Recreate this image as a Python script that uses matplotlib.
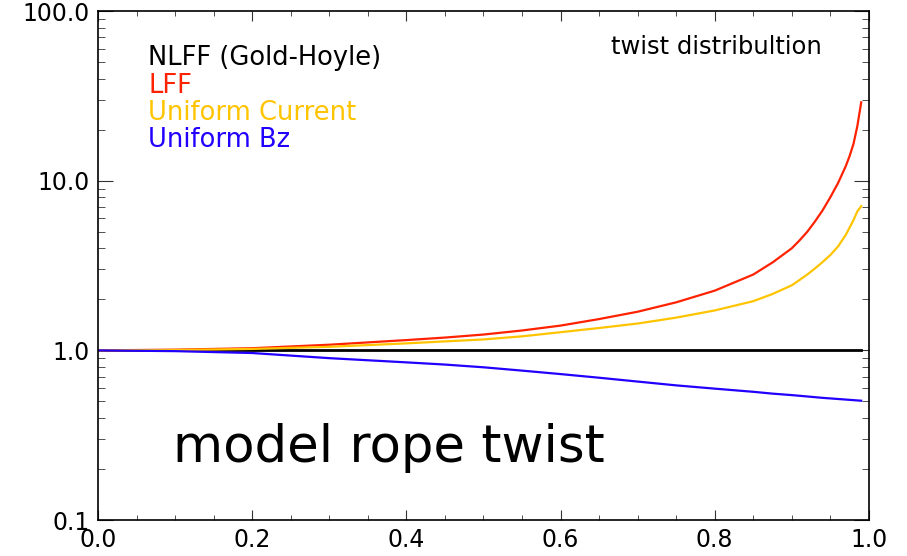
import matplotlib
matplotlib.use('Agg')
import matplotlib.pyplot as plt
from matplotlib.ticker import FixedLocator, MultipleLocator, FormatStrFormatter, LogLocator, NullFormatter

# radius (fraction of rope radius) and twist normalised to axis value
r = [0.0, 0.1, 0.2, 0.3, 0.4, 0.45, 0.5, 0.55, 0.6, 0.65, 0.7, 0.75, 0.8, 0.85, 0.875, 0.9, 0.91,
     0.92, 0.93, 0.94, 0.95, 0.96, 0.97, 0.975, 0.98, 0.985, 0.99]
twist_nlff = [1.0] * len(r)
twist_lff = [1.00, 1.01, 1.03, 1.08, 1.15, 1.19, 1.24, 1.31, 1.40, 1.53, 1.69, 1.92, 2.25, 2.8, 3.3, 4.0, 4.45,
             5.0, 5.75, 6.7, 8.0, 9.7, 12.2, 14.0, 16.5, 21.0, 29.0]
twist_ucur = [1.00, 1.005, 1.02, 1.05, 1.10, 1.13, 1.16, 1.21, 1.28, 1.355, 1.44, 1.56, 1.72, 1.95, 2.15, 2.42, 2.6,
              2.8, 3.04, 3.32, 3.65, 4.1, 4.8, 5.3, 5.86, 6.6, 7.08]
twist_ubz = [1.00, 0.99, 0.965, 0.90, 0.85, 0.825, 0.795, 0.76, 0.725, 0.69, 0.655, 0.622, 0.595, 0.57, 0.556, 0.545,
             0.54, 0.535, 0.53, 0.525, 0.521, 0.517, 0.513, 0.511, 0.509, 0.507, 0.505]

labels = ['NLFF (Gold-Hoyle)', 'LFF', 'Uniform Current', 'Uniform Bz']
colors = ['black', '#ff2200', '#ffc400', '#2200ff']

plt.rcParams['font.family'] = ['DejaVu Sans']

fig = plt.figure(figsize=(9.07, 5.56), dpi=100)
ax = fig.add_axes([0.108, 0.0647, 0.850, 0.9153])

ax.plot(r, twist_nlff, color=colors[0], lw=2.0)
ax.plot(r, twist_lff, color=colors[1], lw=1.6)
ax.plot(r, twist_ucur, color=colors[2], lw=1.6)
ax.plot(r, twist_ubz, color=colors[3], lw=1.6)

ax.set_yscale('log')
ax.set_xlim(0, 1)
ax.set_ylim(0.1, 100)

ax.xaxis.set_major_locator(MultipleLocator(0.2))
ax.xaxis.set_minor_locator(MultipleLocator(0.05))
ax.xaxis.set_major_formatter(FormatStrFormatter('%.1f'))
ax.yaxis.set_major_locator(FixedLocator([0.1, 1, 10, 100]))
ax.yaxis.set_minor_locator(LogLocator(base=10, subs=range(2, 10)))
ax.yaxis.set_major_formatter(FormatStrFormatter('%.1f'))
ax.yaxis.set_minor_formatter(NullFormatter())

ax.tick_params(which='both', direction='in', top=True, right=True, labelsize=17, color='#333333')
ax.tick_params(axis='x', which='major', length=7, pad=6)
ax.tick_params(axis='x', which='minor', length=3.6)
ax.tick_params(axis='y', which='major', length=11, pad=6)
ax.tick_params(axis='y', which='minor', length=5)
for s in ax.spines.values():
    s.set_linewidth(1.2)

# colour-coded key
ys = [0.894, 0.839, 0.787, 0.733]
for lab, c, y in zip(labels, colors, ys):
    ax.text(0.065, y, lab, color=c, fontsize=18.5, transform=ax.transAxes, va='baseline')

ax.text(0.665, 0.915, 'twist distribultion', fontsize=17.5, transform=ax.transAxes, va='baseline')
ax.text(0.097, 0.221, 'model rope twist', fontsize=37, va='baseline')

fig.savefig('out.png', dpi=100)
